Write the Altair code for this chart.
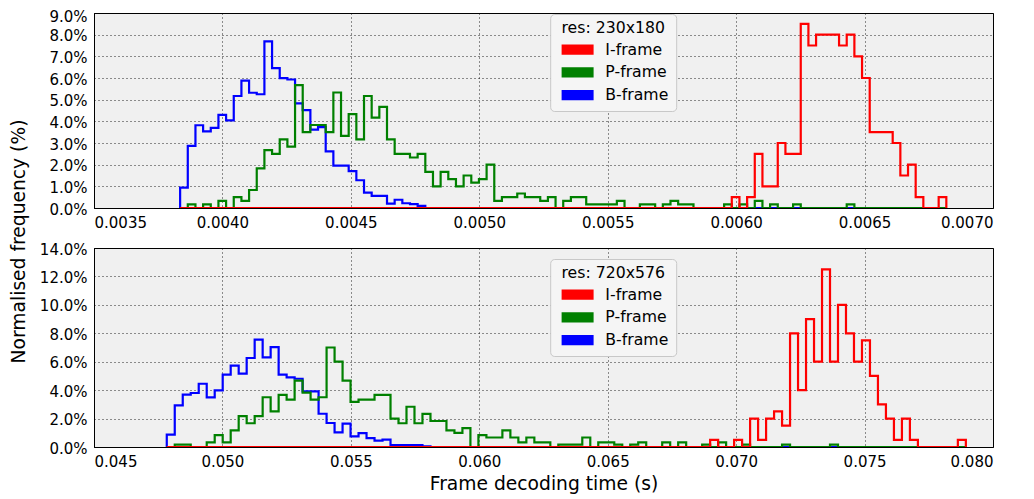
import altair as alt
import pandas as pd

FRAMES = ["I-frame", "P-frame", "B-frame"]
COLORS = ["#ff0000", "#008000", "#0000ff"]
DRAW_ORDER = ["B-frame", "P-frame", "I-frame"]

# ---- top panel (res 230x180): 100 common bins ----
TOP_START = 0.0038353
TOP_WIDTH = 0.00002983
TOP_X_TICKS = [0.0035, 0.0040, 0.0045, 0.0050, 0.0055, 0.0060, 0.0065, 0.0070]
TOP_Y_TICKS = [0, 1, 2, 3, 4, 5, 6, 7, 8, 9]

TOP_I = [
    0, 0, 0, 0, 0, 0, 0, 0, 0, 0,
    0, 0, 0, 0, 0, 0, 0, 0, 0, 0,
    0, 0, 0, 0, 0, 0, 0, 0, 0, 0,
    0, 0, 0, 0, 0, 0, 0, 0, 0, 0,
    0, 0, 0, 0, 0, 0, 0, 0, 0, 0,
    0, 0, 0, 0, 0, 0, 0, 0, 0, 0,
    0, 0, 0, 0, 0, 0, 0, 0, 0, 0,
    0, 0, 0.5, 0, 0.5, 2.5, 1.0, 1.0, 3.0, 2.5,
    2.5, 8.5, 7.5, 8.0, 8.0, 8.0, 7.5, 8.0, 7.0, 6.0,
    3.5, 3.5, 3.5, 3.0, 1.5, 2.0, 0.5, 0, 0, 0.5,
]
TOP_P = [
    0, 0.17, 0, 0.17, 0, 0.33, 0, 0.5, 0.33, 0.83,
    1.83, 2.67, 2.5, 3.17, 2.83, 5.67, 3.5, 3.83, 3.83, 3.5,
    5.33, 3.33, 4.33, 3.17, 5.17, 4.17, 4.67, 3.17, 2.5, 2.5,
    2.33, 2.5, 1.67, 1.0, 1.67, 1.33, 1.0, 1.5, 1.17, 1.33,
    2.0, 0.33, 0.5, 0.5, 0.67, 0.5, 0.5, 0.33, 0.5, 0,
    0.33, 0.5, 0.5, 0.17, 0.17, 0.17, 0.17, 0.33, 0, 0,
    0.17, 0.17, 0, 0.17, 0.33, 0.17, 0.17, 0, 0, 0,
    0, 0.17, 0, 0.17, 0, 0.33, 0, 0.17, 0, 0,
    0.17, 0, 0, 0, 0, 0, 0, 0.17, 0, 0,
    0, 0, 0, 0, 0, 0, 0, 0, 0, 0,
]
TOP_B = [
    0.94, 2.87, 3.82, 3.54, 3.70, 4.30, 4.04, 5.17, 5.88, 5.32,
    5.25, 7.69, 6.46, 5.99, 5.93, 4.83, 4.52, 3.62, 3.73, 2.61,
    1.96, 1.96, 1.70, 1.28, 0.71, 0.56, 0.56, 0.20, 0.38, 0.22,
    0.18, 0.10, 0, 0, 0, 0, 0, 0, 0, 0,
    0, 0, 0, 0, 0, 0, 0, 0, 0, 0,
    0, 0, 0, 0, 0, 0, 0, 0, 0, 0,
    0, 0, 0, 0, 0, 0, 0, 0, 0, 0,
    0, 0, 0, 0, 0, 0, 0, 0, 0, 0,
    0, 0, 0, 0, 0, 0, 0, 0, 0, 0,
    0, 0, 0, 0, 0, 0, 0, 0, 0, 0,
]

# ---- bottom panel (res 720x576) ----
BOT_START = 0.047833
BOT_WIDTH = 0.0003111
BOT_X_TICKS = [0.045, 0.050, 0.055, 0.060, 0.065, 0.070, 0.075, 0.080]
BOT_Y_TICKS = [0, 2, 4, 6, 8, 10, 12, 14]

BOT_I = [
    0, 0, 0, 0, 0, 0, 0, 0, 0, 0,
    0, 0, 0, 0, 0, 0, 0, 0, 0, 0,
    0, 0, 0, 0, 0, 0, 0, 0, 0, 0,
    0, 0, 0, 0, 0, 0, 0, 0, 0, 0,
    0, 0, 0, 0, 0, 0, 0, 0, 0, 0,
    0, 0, 0, 0, 0, 0, 0, 0, 0, 0,
    0, 0, 0, 0, 0, 0, 0, 0, 0.5, 0,
    0, 0.5, 0, 2.0, 0.5, 2.0, 2.5, 1.5, 8.0, 4.0,
    9.0, 6.0, 12.5, 6.0, 10.0, 8.0, 6.0, 7.5, 5.0, 3.0,
    2.0, 0.5, 2.0, 0.5, 0, 0, 0, 0, 0, 0.5,
]
BOT_P = [
    0, 0.17, 0.17, 0, 0, 0.33, 0.83, 0.33, 1.17, 2.17,
    1.67, 2.17, 3.5, 2.5, 3.67, 3.33, 4.67, 3.83, 3.33, 3.5,
    7.0, 6.0, 4.67, 3.17, 3.33, 3.33, 3.67, 3.67, 2.0, 1.67,
    2.83, 1.67, 2.33, 1.83, 1.83, 1.17, 1.0, 1.33, 0, 0.83,
    0.67, 0.67, 1.17, 0.67, 0.33, 0.67, 0.33, 0.33, 0, 0.17,
    0.17, 0.17, 0.67, 0, 0.33, 0.33, 0.17, 0, 0.17, 0.33,
    0, 0, 0.33, 0, 0.33, 0, 0, 0.17, 0, 0.33,
    0, 0, 0.17, 0, 0, 0, 0, 0.17, 0, 0,
    0, 0, 0, 0.17, 0, 0, 0, 0, 0, 0,
    0, 0, 0, 0, 0, 0, 0, 0, 0, 0,
]
BOT_B = [
    0.87, 2.93, 3.68, 3.80, 4.45, 3.49, 3.98, 5.09, 5.72, 5.16,
    6.26, 7.55, 6.30, 7.03, 5.09, 4.90, 4.80, 3.91, 3.91, 2.34,
    1.69, 1.03, 1.64, 0.75, 0.98, 0.63, 0.45, 0.52, 0.14, 0.14,
    0.14, 0.14, 0.05, 0, 0, 0, 0, 0, 0, 0,
    0, 0, 0, 0, 0, 0, 0, 0, 0, 0,
    0, 0, 0, 0, 0, 0, 0, 0, 0, 0,
    0, 0, 0, 0, 0, 0, 0, 0, 0, 0,
    0, 0, 0, 0, 0, 0, 0, 0, 0, 0,
    0, 0, 0, 0, 0, 0, 0, 0, 0, 0,
    0, 0, 0, 0, 0, 0, 0, 0, 0, 0,
]


def outline(start, width, series):
    """Step-histogram outline points (bin edges + heights) for each frame type."""
    rows = []
    for frame, values in series.items():
        edges = [start + width * i for i in range(len(values) + 1)]
        pts = [(edges[0], 0.0)]
        pts += [(edges[i], v) for i, v in enumerate(values)]
        pts += [(edges[-1], values[-1]), (edges[-1], 0.0)]
        for k, (x, y) in enumerate(pts):
            rows.append({"t": x, "pct": y, "frame": frame, "idx": k})
    return pd.DataFrame(rows)


# legend patch: a stack of horizontal strokes forming a solid 32x10 bar
# (small nominal symbol size, path drawn beyond the unit box)
PATCH = "M-4,-1L4,-1M-4,-0.5L4,-0.5M-4,0L4,0M-4,0.5L4,0.5M-4,1L4,1"


def panel(df, xdom, xticks, xfmt, xtitle, ymax, yticks, ytitle, legend_title,
          legend_y, height, label_offset):
    yaxis = dict(values=yticks, labelExpr="format(datum.value, '.1f') + '%'",
                 title=ytitle, labelOffset=label_offset)
    if ytitle:
        yaxis.update(titleX=-70, titleY=228, titleBaseline="alphabetic", titleAngle=270)
    base = alt.Chart(df).mark_line(
        interpolate="step-after", strokeWidth=2.2, clip=True
    ).encode(
        x=alt.X("t:Q", scale=alt.Scale(domain=xdom, nice=False, zero=False),
                axis=alt.Axis(values=xticks, labelExpr=f"format(datum.value, '{xfmt}')",
                              title=xtitle)),
        y=alt.Y("pct:Q", scale=alt.Scale(domain=[0, ymax], nice=False),
                axis=alt.Axis(**yaxis)),
        color=alt.Color(
            "frame:N",
            scale=alt.Scale(domain=FRAMES, range=COLORS),
            legend=alt.Legend(title=legend_title, orient="none",
                              legendX=456.2, legendY=legend_y),
        ),
        order=alt.Order("idx:Q"),
    )
    layers = [base.transform_filter(alt.datum.frame == f) for f in DRAW_ORDER]
    return alt.layer(*layers).properties(width=899, height=height)


top_df = outline(TOP_START, TOP_WIDTH, {"I-frame": TOP_I, "P-frame": TOP_P, "B-frame": TOP_B})
bot_df = outline(BOT_START, BOT_WIDTH, {"I-frame": BOT_I, "P-frame": BOT_P, "B-frame": BOT_B})

top = panel(top_df, [0.0035, 0.0070], TOP_X_TICKS, ".4f", "", 9, TOP_Y_TICKS,
            "Normalised frequency (%)", "res: 230x180", 1, 195,
            {"condition": {"test": "datum.value >= 9", "value": 3}, "value": 1})
bottom = panel(bot_df, [0.045, 0.080], BOT_X_TICKS, ".3f", "Frame decoding time (s)", 14,
               BOT_Y_TICKS, "", "res: 720x576", 11, 199, 1)

chart = alt.vconcat(top, bottom, spacing=40, bounds="flush").resolve_scale(
    color="independent"
).resolve_legend(color="independent").properties(
    padding={"top": 0, "left": 0, "right": 0, "bottom": 0}
).configure(
    font="DejaVu Sans"
).configure_view(
    stroke="black", strokeWidth=1, fill="#f0f0f0"
).configure_axis(
    grid=True, gridColor="black", gridDash=[1, 3], gridWidth=1, gridOpacity=0.85,
    domainColor="black", domainWidth=1, ticks=False,
    labelFont="DejaVu Sans", labelFontSize=15, labelColor="black", labelPadding=7,
    titleFont="DejaVu Sans", titleFontSize=18.7, titleFontWeight="normal",
    titleColor="black", titlePadding=5.5,
).configure_legend(
    titleFont="DejaVu Sans", titleFontSize=15.7, titleFontWeight="normal",
    titleColor="black", titleAnchor="middle", titleAlign="center", titlePadding=5,
    labelFont="DejaVu Sans", labelFontSize=15.7, labelColor="black",
    symbolType=PATCH, symbolSize=64, symbolStrokeWidth=2.2,
    symbolOffset=12.55, labelOffset=19.9, rowPadding=4.8, padding=7,
    fillColor="#f5f5f5", strokeColor="#c8c8c8", cornerRadius=4,
)

chart.save("out.html", embed_options={"renderer": "svg", "actions": False})
